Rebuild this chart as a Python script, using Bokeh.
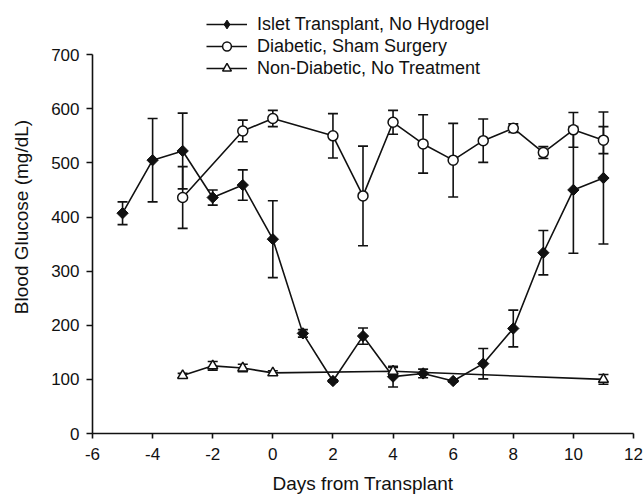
import numpy as np
from bokeh.plotting import figure
from bokeh.models import (Range1d, FixedTicker, Whisker, ColumnDataSource, Legend,
                          LegendItem, TeeHead)
from bokeh.embed import file_html
from bokeh.resources import INLINE

# ---- data ----
islet_days = [-5, -4, -3, -2, -1, 0, 1, 2, 3, 4, 5, 6, 7, 8, 9, 10, 11]
islet_glucose = [407, 505, 522, 436, 459, 359, 185, 97, 180, 105, 111, 97, 129, 194, 334, 450, 472]
islet_err = [21, 77, 70, 14, 28, 71, 7, 2, 15, 19, 8, 2, 28, 34, 41, 117, 122]

sham_days = [-3, -1, 0, 2, 3, 4, 5, 6, 7, 8, 9, 10, 11]
sham_glucose = [436, 559, 582, 550, 439, 575, 535, 505, 541, 564, 519, 561, 542]
sham_err = [57, 20, 15, 41, 92, 22, 54, 68, 40, 8, 11, 32, 25]

nondiab_days = [-3, -2, -1, 0, 4, 11]
nondiab_glucose = [107, 125, 121, 112, 115, 100]
nondiab_err = [4, 8, 7, 4, 7, 9]

x_ticks = [-6, -4, -2, 0, 2, 4, 6, 8, 10, 12]
x_tick_labels = ["-6", "-4", "-2", "0", "2", "4", "6", "8", "10", "12"]
y_ticks = [0, 100, 200, 300, 400, 500, 600, 700]

series_labels = ["Islet Transplant, No Hydrogel", "Diabetic, Sham Surgery",
                 "Non-Diabetic, No Treatment"]

FONT = "Liberation Sans"
INK = "#111111"

# y range extends above 700 so the legend has room inside the frame; the axis is bounded at 700
p = figure(width=643, height=497, x_range=Range1d(-6, 12), y_range=Range1d(0, 800),
           output_backend="svg", toolbar_location=None,
           min_border_left=92, min_border_right=10, min_border_top=0, min_border_bottom=64)
p.grid.visible = False
p.outline_line_color = None
p.background_fill_color = "white"
p.border_fill_color = "white"

for ax in (p.xaxis[0], p.yaxis[0]):
    ax.axis_line_color = INK
    ax.axis_line_width = 1.6
    ax.major_tick_line_color = INK
    ax.major_tick_line_width = 1.6
    ax.major_tick_in = 0
    ax.minor_tick_line_color = None
    ax.major_label_text_font = FONT
    ax.major_label_text_font_size = "17px"
    ax.major_label_text_color = INK
    ax.axis_label_text_font = FONT
    ax.axis_label_text_font_size = "19px"
    ax.axis_label_text_font_style = "normal"
    ax.axis_label_text_color = INK

p.xaxis.ticker = FixedTicker(ticks=x_ticks)
p.xaxis.major_label_overrides = {t: l for t, l in zip(x_ticks, x_tick_labels)}
p.xaxis.major_tick_out = 5
p.xaxis.major_label_standoff = 9
p.xaxis.axis_label = "Days from Transplant"
p.xaxis.axis_label_standoff = 10

p.yaxis.ticker = FixedTicker(ticks=y_ticks)
p.yaxis.bounds = (0, 700)
p.yaxis.major_tick_out = 6
p.yaxis.major_label_standoff = 7
p.yaxis.axis_label = "Blood Glucose (mg/dL)"
p.yaxis.axis_label_standoff = 16


def add_whiskers(xs, ys, errs):
    src = ColumnDataSource(dict(x=xs,
                                lower=[y - e for y, e in zip(ys, errs)],
                                upper=[y + e for y, e in zip(ys, errs)]))
    w = Whisker(base="x", lower="lower", upper="upper", source=src, dimension="height",
                line_color=INK, line_width=1.6,
                upper_head=TeeHead(size=10, line_color=INK, line_width=1.6),
                lower_head=TeeHead(size=10, line_color=INK, line_width=1.6))
    p.add_layout(w)


add_whiskers(islet_days, islet_glucose, islet_err)
add_whiskers(sham_days, sham_glucose, sham_err)
add_whiskers(nondiab_days, nondiab_glucose, nondiab_err)

islet_src = ColumnDataSource(dict(x=islet_days, y=islet_glucose))
l1 = p.line("x", "y", source=islet_src, line_color=INK, line_width=1.6)
# diamond symbol used for the legend key; fully covered in the plot by the rotated squares
m1_key = p.scatter("x", "y", source=islet_src, marker="diamond", size=10,
                   fill_color=INK, line_color=INK, line_width=1)
m1 = p.scatter("x", "y", source=islet_src, marker="square", angle=np.pi / 4, size=8,
               fill_color=INK, line_color=INK, line_width=1)

l2 = p.line(sham_days, sham_glucose, line_color=INK, line_width=1.6)
m2 = p.scatter(sham_days, sham_glucose, marker="circle", size=10,
               fill_color="white", line_color=INK, line_width=1.5)

l3 = p.line(nondiab_days, nondiab_glucose, line_color=INK, line_width=1.6)
m3 = p.scatter(nondiab_days, nondiab_glucose, marker="triangle", size=10,
               fill_color="white", line_color=INK, line_width=1.5)

legend = Legend(items=[LegendItem(label=series_labels[0], renderers=[l1, m1_key]),
                       LegendItem(label=series_labels[1], renderers=[l2, m2]),
                       LegendItem(label=series_labels[2], renderers=[l3, m3])],
                location=(114, 354), orientation="vertical",
                label_text_font=FONT, label_text_font_size="18px", label_text_color=INK,
                glyph_width=41, glyph_height=22, label_height=22, spacing=0,
                padding=0, margin=0, label_standoff=10,
                border_line_color=None, background_fill_alpha=0)
p.add_layout(legend)

open("out.html", "w").write(file_html(p, INLINE))
